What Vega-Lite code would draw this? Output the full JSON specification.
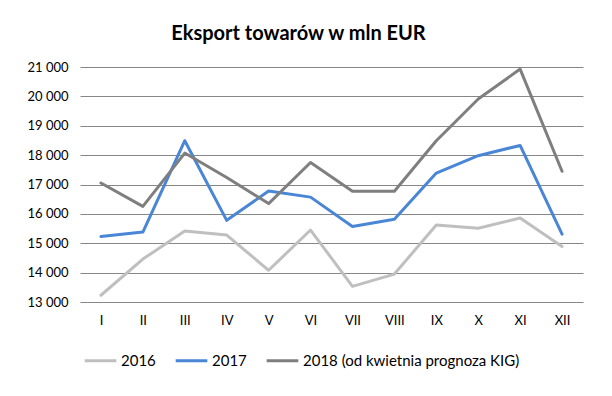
{
  "$schema": "https://vega.github.io/schema/vega-lite/v6.json",
  "width": 503,
  "height": 235,
  "autosize": "none",
  "padding": {"left": 80, "top": 67, "right": 29, "bottom": 94},
  "background": "white",
  "config": {
    "font": "Lato",
    "view": {"stroke": null}
  },
  "title": {
    "text": "Eksport towarów  w mln EUR",
    "font": "Lato",
    "fontSize": 20,
    "fontWeight": "bold",
    "color": "#000000",
    "anchor": "middle",
    "offset": 17,
    "dx": -33
  },
  "data": {
    "values": [
      {"m": "I", "s": "2016", "v": 13230},
      {"m": "II", "s": "2016", "v": 14460},
      {"m": "III", "s": "2016", "v": 15420},
      {"m": "IV", "s": "2016", "v": 15280},
      {"m": "V", "s": "2016", "v": 14080},
      {"m": "VI", "s": "2016", "v": 15450},
      {"m": "VII", "s": "2016", "v": 13530},
      {"m": "VIII", "s": "2016", "v": 13950},
      {"m": "IX", "s": "2016", "v": 15620},
      {"m": "X", "s": "2016", "v": 15510},
      {"m": "XI", "s": "2016", "v": 15860},
      {"m": "XII", "s": "2016", "v": 14890},
      {"m": "I", "s": "2017", "v": 15230},
      {"m": "II", "s": "2017", "v": 15380},
      {"m": "III", "s": "2017", "v": 18490},
      {"m": "IV", "s": "2017", "v": 15780},
      {"m": "V", "s": "2017", "v": 16780},
      {"m": "VI", "s": "2017", "v": 16570},
      {"m": "VII", "s": "2017", "v": 15570},
      {"m": "VIII", "s": "2017", "v": 15820},
      {"m": "IX", "s": "2017", "v": 17390},
      {"m": "X", "s": "2017", "v": 17980},
      {"m": "XI", "s": "2017", "v": 18330},
      {"m": "XII", "s": "2017", "v": 15310},
      {"m": "I", "s": "2018 (od kwietnia prognoza KIG)", "v": 17050},
      {"m": "II", "s": "2018 (od kwietnia prognoza KIG)", "v": 16255},
      {"m": "III", "s": "2018 (od kwietnia prognoza KIG)", "v": 18070},
      {"m": "IV", "s": "2018 (od kwietnia prognoza KIG)", "v": 17240},
      {"m": "V", "s": "2018 (od kwietnia prognoza KIG)", "v": 16350},
      {"m": "VI", "s": "2018 (od kwietnia prognoza KIG)", "v": 17750},
      {"m": "VII", "s": "2018 (od kwietnia prognoza KIG)", "v": 16770},
      {"m": "VIII", "s": "2018 (od kwietnia prognoza KIG)", "v": 16770},
      {"m": "IX", "s": "2018 (od kwietnia prognoza KIG)", "v": 18490},
      {"m": "X", "s": "2018 (od kwietnia prognoza KIG)", "v": 19910},
      {"m": "XI", "s": "2018 (od kwietnia prognoza KIG)", "v": 20930},
      {"m": "XII", "s": "2018 (od kwietnia prognoza KIG)", "v": 17450}
    ]
  },
  "mark": {"type": "line", "strokeCap": "round", "strokeJoin": "round"},
  "encoding": {
    "x": {
      "field": "m",
      "type": "ordinal",
      "sort": null,
      "scale": {"type": "point", "padding": 0.5},
      "axis": {
        "title": null,
        "labelAngle": 0,
        "labelFont": "Lato",
        "labelFontSize": 13,
        "labelColor": "#000000",
        "domain": false,
        "ticks": false,
        "grid": false,
        "labelPadding": 12
      }
    },
    "y": {
      "field": "v",
      "type": "quantitative",
      "scale": {"domain": [13000, 21000], "nice": false, "zero": false},
      "axis": {
        "title": null,
        "values": [13000, 14000, 15000, 16000, 17000, 18000, 19000, 20000, 21000],
        "labelExpr": "replace(format(datum.value, ','), ',', ' ')",
        "labelFont": "Lato",
        "labelFontSize": 13,
        "labelColor": "#000000",
        "domain": false,
        "ticks": false,
        "grid": true,
        "gridColor": "#878787",
        "gridWidth": 1,
        "labelPadding": 12
      }
    },
    "color": {
      "field": "s",
      "type": "nominal",
      "scale": {
        "domain": ["2016", "2017", "2018 (od kwietnia prognoza KIG)"],
        "range": ["#BFBFBF", "#4A86D6", "#7F7F7F"]
      },
      "legend": {
        "title": null,
        "orient": "none",
        "legendX": 3,
        "legendY": 276,
        "direction": "horizontal",
        "symbolType": "stroke",
        "symbolSize": 1000,
        "symbolStrokeWidth": 3.5,
        "labelFont": "Lato",
        "labelFontSize": 15,
        "labelLimit": 400,
        "labelColor": "#000000",
        "columnPadding": 13,
        "labelOffset": 3
      }
    },
    "strokeWidth": {
      "field": "s",
      "type": "nominal",
      "scale": {
        "domain": ["2016", "2017", "2018 (od kwietnia prognoza KIG)"],
        "range": [3, 3, 4.5]
      },
      "legend": null
    }
  }
}
